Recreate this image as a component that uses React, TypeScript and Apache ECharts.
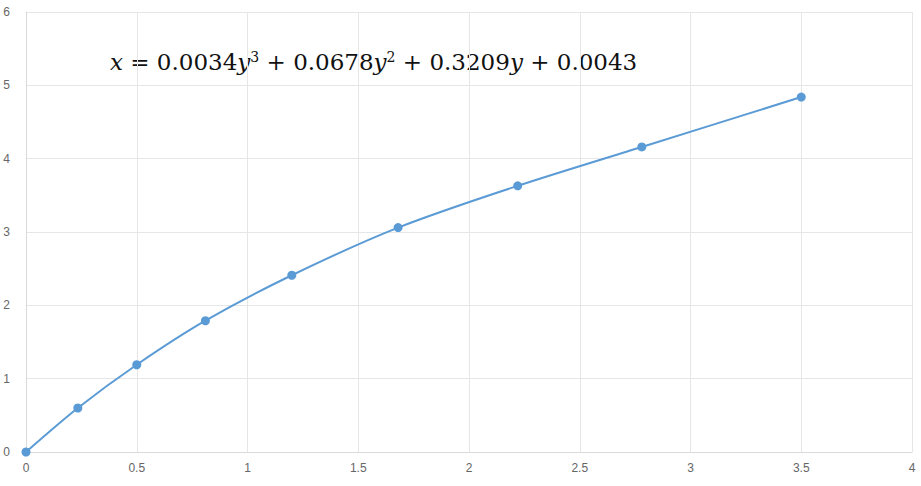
import React, { useEffect, useRef } from "react";
import * as echarts from "echarts";

const xValues = [0, 0.234, 0.5, 0.81, 1.2, 1.68, 2.22, 2.78, 3.5];
const yValues = [0, 0.6, 1.19, 1.79, 2.41, 3.06, 3.63, 4.16, 4.84];
const xTicks = [0, 0.5, 1, 1.5, 2, 2.5, 3, 3.5, 4];
const yTicks = [0, 1, 2, 3, 4, 5, 6];

export default function App() {
  const ref = useRef<HTMLDivElement>(null);
  useEffect(() => {
    if (!ref.current) return;
    const chart = echarts.init(ref.current, undefined, { renderer: "svg" });
    const data = xValues.map((x, i) => [x, yValues[i]]);
    chart.setOption({
      animation: false,
      backgroundColor: "#ffffff",
      grid: { left: 26, right: 9, top: 12, bottom: 34, containLabel: false },
      xAxis: {
        type: "value",
        min: xTicks[0],
        max: xTicks[xTicks.length - 1],
        interval: 0.5,
        axisLine: { show: true, lineStyle: { color: "#d9d9d9" } },
        axisTick: { show: false },
        splitLine: { show: true, lineStyle: { color: "#e6e6e6" } },
        axisLabel: { color: "#666666", fontSize: 12, fontFamily: "Liberation Sans", margin: 10 },
      },
      yAxis: {
        type: "value",
        min: yTicks[0],
        max: yTicks[yTicks.length - 1],
        interval: 1,
        axisLine: { show: true, lineStyle: { color: "#d9d9d9" } },
        axisTick: { show: false },
        splitLine: { show: true, lineStyle: { color: "#e6e6e6" } },
        axisLabel: { color: "#666666", fontSize: 12, fontFamily: "Liberation Sans", margin: 16 },
      },
      series: [
        {
          type: "line",
          data,
          smooth: 0.3,
          symbol: "circle",
          symbolSize: 9,
          itemStyle: { color: "#5B9BD5" },
          lineStyle: { color: "#5B9BD5", width: 2 },
        },
      ],
      graphic: [
        {
          type: "text",
          left: 110,
          top: 50,
          style: {
            text: "{i|x} = 0.0034{i|y}{s|3} + 0.0678{i|y}{s|2} + 0.3209{i|y} + 0.0043",
            fill: "#111111",
            fontFamily: "DejaVu Serif",
            fontSize: 23,
            rich: {
              i: { fontStyle: "italic", fontFamily: "DejaVu Serif", fontSize: 23, fill: "#111111" },
              s: { fontFamily: "DejaVu Serif", fontSize: 14, verticalAlign: "top", fill: "#111111", padding: [0, 0, 10, 0] },
            },
          },
        },
      ],
    });
    return () => chart.dispose();
  }, []);
  return (
    <div
      ref={ref}
      style={{ position: "fixed", left: 0, top: 0, width: 921, height: 486 }}
    />
  );
}
